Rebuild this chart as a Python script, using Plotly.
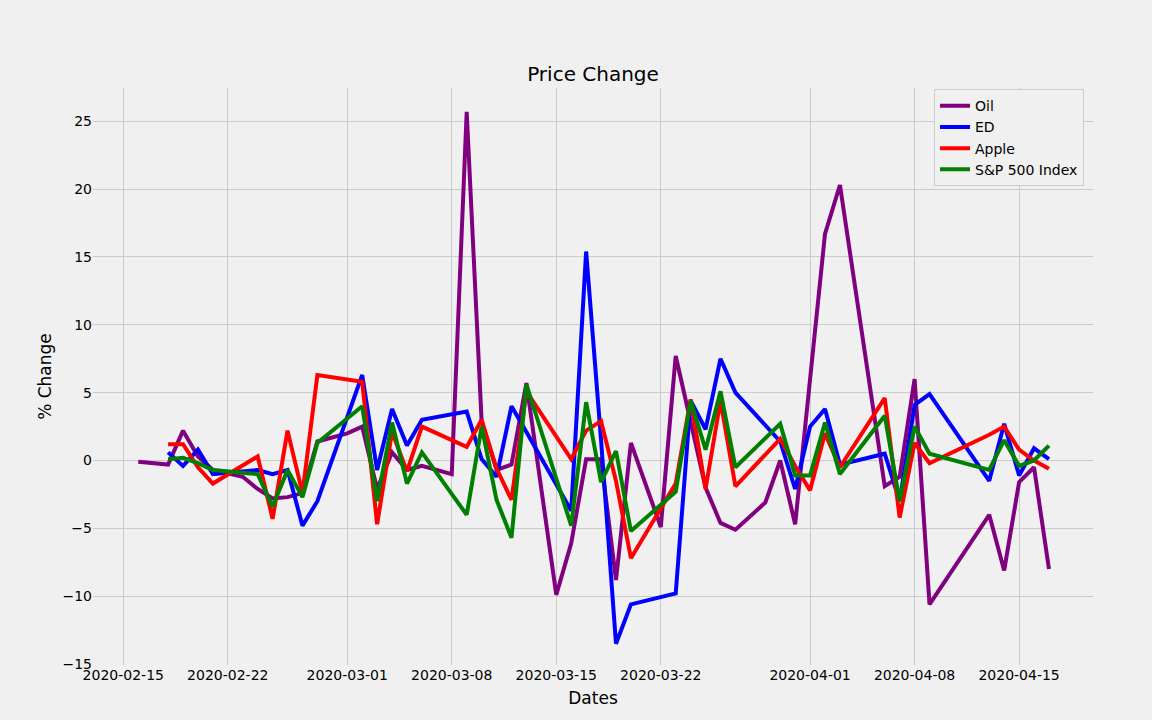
import plotly.graph_objects as go

# ---- data ----
stock_dates = ["2020-02-18", "2020-02-19", "2020-02-20", "2020-02-21", "2020-02-24",
               "2020-02-25", "2020-02-26", "2020-02-27", "2020-02-28", "2020-03-02",
               "2020-03-03", "2020-03-04", "2020-03-05", "2020-03-06", "2020-03-09",
               "2020-03-10", "2020-03-11", "2020-03-12", "2020-03-13", "2020-03-16",
               "2020-03-17", "2020-03-18", "2020-03-19", "2020-03-20", "2020-03-23",
               "2020-03-24", "2020-03-25", "2020-03-26", "2020-03-27", "2020-03-30",
               "2020-03-31", "2020-04-01", "2020-04-02", "2020-04-03", "2020-04-06",
               "2020-04-07", "2020-04-08", "2020-04-09", "2020-04-13", "2020-04-14",
               "2020-04-15", "2020-04-16", "2020-04-17"]

ed_change = [0.6, -0.4, 0.8, -1.0, -0.7, -1.0, -0.7, -4.8, -3.0, 6.3,
             -0.7, 3.8, 1.1, 3.0, 3.6, 0.1, -1.2, 4.0, 2.1, -3.7,
             15.4, 1.5, -13.5, -10.6, -9.8, 4.4, 2.3, 7.5, 5.0, 1.4,
             -2.1, 2.5, 3.8, -0.3, 0.5, -3.0, 4.1, 4.9, -1.5, 2.7,
             -1.1, 0.9, 0.1]

apple_change = [1.2, 1.2, -0.5, -1.7, 0.3, -4.3, 2.2, -2.4, 6.3, 5.8,
                -4.7, 2.1, -0.8, 2.5, 1.0, 3.0, -0.6, -2.9, 5.1, 0.1,
                2.2, 2.9, -1.5, -7.2, -1.7, 4.5, -2.1, 4.4, -1.9, 1.6,
                -0.4, -2.2, 2.0, -0.5, 4.6, -4.2, 1.3, -0.2, 1.9, 2.5,
                0.8, 0.0, -0.6]

sp500_change = [0.1, 0.2, -0.2, -0.7, -1.0, -3.4, -0.7, -2.7, 1.3, 4.0,
                -3.0, 2.8, -1.7, 0.6, -4.0, 2.5, -2.9, -5.7, 5.6, -4.8,
                4.3, -1.6, 0.7, -5.2, -2.3, 4.4, 0.8, 5.1, -0.5, 2.7,
                -1.1, -1.1, 2.8, -1.0, 3.3, -3.0, 2.5, 0.5, -0.7, 1.5,
                -0.4, 0.0, 1.1]

oil_dates = ["2020-02-16", "2020-02-18", "2020-02-19", "2020-02-20", "2020-02-21",
             "2020-02-23", "2020-02-24", "2020-02-25", "2020-02-26", "2020-02-27",
             "2020-02-28", "2020-03-01", "2020-03-02", "2020-03-03", "2020-03-04",
             "2020-03-05", "2020-03-06", "2020-03-08", "2020-03-09", "2020-03-10",
             "2020-03-11", "2020-03-12", "2020-03-13", "2020-03-15", "2020-03-16",
             "2020-03-17", "2020-03-18", "2020-03-19", "2020-03-20", "2020-03-22",
             "2020-03-23", "2020-03-24", "2020-03-25", "2020-03-26", "2020-03-27",
             "2020-03-29", "2020-03-30", "2020-03-31", "2020-04-01", "2020-04-02",
             "2020-04-03", "2020-04-06", "2020-04-07", "2020-04-08", "2020-04-09",
             "2020-04-13", "2020-04-14", "2020-04-15", "2020-04-16", "2020-04-17"]

oil_change = [-0.1, -0.3, 2.2, 0.3, -0.7, -1.2, -2.1, -2.8, -2.7, -2.4,
              1.4, 2.0, 2.5, -2.1, 0.6, -0.7, -0.4, -1.0, 25.7, 2.9,
              -0.7, -0.3, 5.7, -9.9, -6.1, 0.1, 0.1, -8.8, 1.3, -4.9,
              7.7, 3.0, -2.0, -4.6, -5.1, -3.1, 0.0, -4.7, 6.0, 16.7,
              20.3, -1.9, -1.2, 6.0, -10.6, -4.0, -8.1, -1.6, -0.5, -8.0]

x_tick_dates = ["2020-02-15", "2020-02-22", "2020-03-01", "2020-03-08", "2020-03-15",
                "2020-03-22", "2020-04-01", "2020-04-08", "2020-04-15"]
x_tick_labels = list(x_tick_dates)

series = [
    ("Oil", oil_dates, oil_change, "purple"),
    ("ED", stock_dates, ed_change, "blue"),
    ("Apple", stock_dates, apple_change, "red"),
    ("S&P 500 Index", stock_dates, sp500_change, "green"),
]

BG = "#f0f0f0"
GRID = "#cbcbcb"
FONT = "DejaVu Sans"

fig = go.Figure()
for name, xs, ys, color in series:
    fig.add_trace(go.Scatter(x=xs, y=ys, mode="lines", name=name,
                             line=dict(color=color, width=4)))

fig.update_layout(
    width=1152, height=720,
    paper_bgcolor=BG, plot_bgcolor=BG,
    margin=dict(l=93, r=59, t=88, b=55),
    font=dict(family=FONT, size=14, color="black"),
    title=dict(text="Price Change", x=0.5, xref="paper", xanchor="center",
               y=1 - 74 / 720, yref="container", yanchor="middle",
               font=dict(family=FONT, size=20, color="black")),
    legend=dict(x=0.841, y=0.998, xanchor="left", yanchor="top",
                bgcolor=BG, bordercolor="#cccccc", borderwidth=1,
                font=dict(family=FONT, size=14, color="black")),
    showlegend=True,
)

fig.update_xaxes(
    type="date",
    range=["2020-02-12 23:17", "2020-04-19 22:48"],
    tickmode="array", tickvals=x_tick_dates, ticktext=x_tick_labels,
    showgrid=True, gridcolor=GRID, gridwidth=1,
    zeroline=False, showline=False, ticks="",
    tickfont=dict(family=FONT, size=14, color="black"),
    title=dict(text="Dates", font=dict(family=FONT, size=17, color="black"), standoff=10),
)
fig.update_yaxes(
    range=[-15.07, 27.45],
    tick0=0, dtick=5,
    showgrid=True, gridcolor=GRID, gridwidth=1,
    zeroline=False, showline=False, ticks="",
    tickfont=dict(family=FONT, size=14, color="black"),
    title=dict(text="% Change", font=dict(family=FONT, size=17, color="black"), standoff=6),
)

fig.write_html("out.html",
               config={"displayModeBar": False},
               post_script="document.body.style.margin='0';document.body.style.background='#f0f0f0';")
